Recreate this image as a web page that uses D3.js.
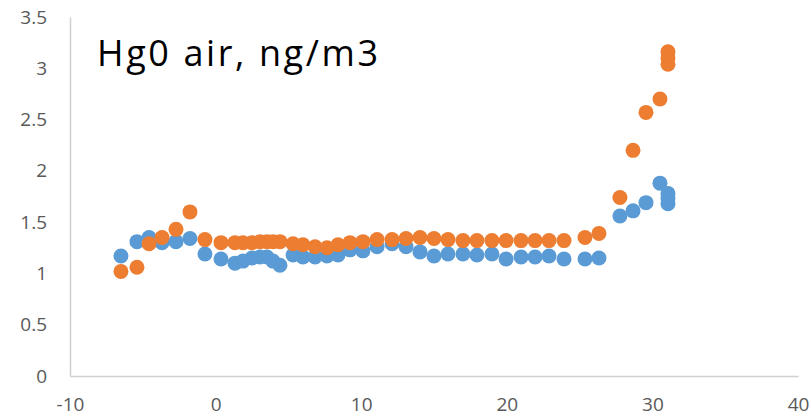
<!DOCTYPE html>
<html>
<head>
<meta charset="utf-8">
<script src="https://cdn.jsdelivr.net/npm/d3@7"></script>
<style>
  body { margin: 0; background: #fff; overflow: hidden; }
  svg { display: block; }
  text { font-family: "Open Sans", "Noto Sans", sans-serif; }
</style>
</head>
<body>
<svg id="chart"></svg>
<script>
// data
var xVals = [-6.5, -5.4, -4.57, -3.68, -2.72, -1.76, -0.73, 0.37, 1.33, 1.88, 2.5, 3.05, 3.53, 3.94, 4.42,
  5.32, 6.0, 6.83, 7.65, 8.41, 9.23, 10.12, 11.09, 12.12, 13.08, 14.04, 15.0, 15.96, 16.99, 17.95,
  18.98, 19.95, 20.98, 21.94, 22.9, 23.93, 25.37, 26.33, 27.77, 28.67, 29.56, 30.52, 31.07, 31.07, 31.07];
var blueVals = [1.17, 1.31, 1.35, 1.30, 1.31, 1.34, 1.19, 1.14, 1.10, 1.12, 1.15, 1.16, 1.16, 1.12, 1.08,
  1.18, 1.16, 1.16, 1.17, 1.18, 1.23, 1.22, 1.26, 1.29, 1.26, 1.21, 1.17, 1.19, 1.19, 1.18,
  1.19, 1.14, 1.16, 1.16, 1.17, 1.14, 1.14, 1.15, 1.56, 1.61, 1.69, 1.88, 1.78, 1.73, 1.68];
var orangeVals = [1.02, 1.06, 1.29, 1.35, 1.43, 1.60, 1.33, 1.30, 1.30, 1.30, 1.30, 1.31, 1.31, 1.31, 1.31,
  1.29, 1.28, 1.26, 1.25, 1.28, 1.30, 1.31, 1.33, 1.33, 1.34, 1.35, 1.34, 1.33, 1.32, 1.32,
  1.32, 1.32, 1.32, 1.32, 1.32, 1.32, 1.35, 1.39, 1.74, 2.20, 2.57, 2.70, 3.16, 3.10, 3.04];
var xTicks = [-10, 0, 10, 20, 30, 40];
var yTicks = [0, 0.5, 1, 1.5, 2, 2.5, 3, 3.5];
var title = "Hg0 air, ng/m3";

var W = 811, H = 418;
var margin = {top: 17, right: 13, bottom: 42, left: 70},
  width = W - margin.left - margin.right,
  height = H - margin.top - margin.bottom;

var svg = d3.select("#chart")
  .attr("width", W)
  .attr("height", H);

var g = svg.append("g")
  .attr("transform", "translate(" + margin.left + "," + margin.top + ")");

var x = d3.scaleLinear().domain([-10, 40]).range([0, width]);
var y = d3.scaleLinear().domain([0, 3.5]).range([height, 0]);

// y axis: labels + line only
var yAxis = g.append("g")
  .call(d3.axisLeft(y).tickValues(yTicks).tickSize(0).tickPadding(23)
    .tickFormat(function(d) { return d; }));
yAxis.select(".domain").attr("stroke", "#d0d0d0").attr("stroke-width", 1.5);
yAxis.selectAll("text").attr("fill", "#595959").style("font-size", "19px");

// x axis
var xAxis = g.append("g")
  .attr("transform", "translate(0," + height + ")")
  .call(d3.axisBottom(x).tickValues(xTicks).tickSize(0).tickPadding(22)
    .tickFormat(function(d) { return d; }));
xAxis.select(".domain").attr("stroke", "#d0d0d0").attr("stroke-width", 1.5);
xAxis.selectAll("text").attr("fill", "#595959").style("font-size", "19px");

var blue = xVals.map(function(d, i) { return {x: d, y: blueVals[i]}; });
var orange = xVals.map(function(d, i) { return {x: d, y: orangeVals[i]}; });

g.append("g").selectAll("circle")
  .data(blue)
  .enter().append("circle")
  .attr("cx", function(d) { return x(d.x); })
  .attr("cy", function(d) { return y(d.y); })
  .attr("r", 7.5)
  .attr("fill", "#5b9bd5");

g.append("g").selectAll("circle")
  .data(orange)
  .enter().append("circle")
  .attr("cx", function(d) { return x(d.x); })
  .attr("cy", function(d) { return y(d.y); })
  .attr("r", 7.5)
  .attr("fill", "#ed7d31");

// title inside plot
svg.append("text")
  .attr("x", 97)
  .attr("y", 66)
  .attr("fill", "#000")
  .style("font-size", "36px")
  .style("letter-spacing", "2.6px")
  .text(title);
</script>
</body>
</html>
